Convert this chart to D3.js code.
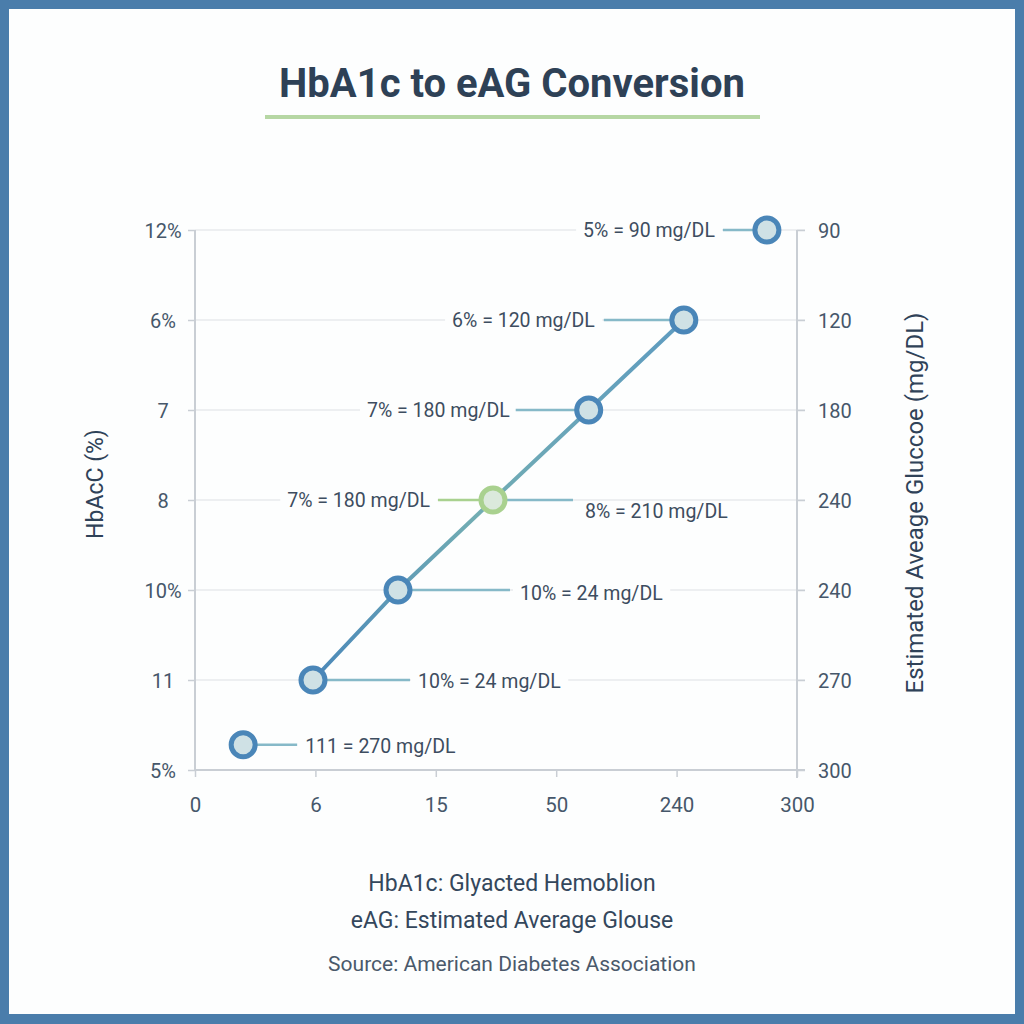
<!DOCTYPE html>
<html>
<head>
<meta charset="utf-8">
<script src="https://cdn.jsdelivr.net/npm/d3@7"></script>
<style>
  html, body { margin: 0; padding: 0; background: #4a7dab; }
  #chart { width: 1024px; height: 1024px; }
  text { font-family: Roboto, "Noto Sans", sans-serif; }
</style>
</head>
<body>
<div id="chart"></div>
<script>
// Tick labels as they appear in the picture
const leftTicks = ["12%", "6%", "7", "8", "10%", "11", "5%"];
const rightTicks = ["90", "120", "180", "240", "240", "270", "300"];
const xTicks = ["0", "6", "15", "50", "240", "300"];

// Points, in axis units (x: tick index, y: row index from top)
const pointX = [4.75, 4.06, 3.27, 2.475, 1.686, 0.98, 0.40];
const pointY = [0, 1, 2, 3, 4, 5, 5.72];
const pointHighlight = [false, false, false, true, false, false, false];
// which points are joined by the line
const lineIdx = [1, 2, 3, 4, 5];

// Annotation texts
const labelText = [
  "5% = 90 mg/DL",
  "6% = 120 mg/DL",
  "7% = 180 mg/DL",
  "7% = 180 mg/DL",
  "8% = 210 mg/DL",
  "10% = 24 mg/DL",
  "10% = 24 mg/DL",
  "111 = 270 mg/DL"
];
const labelPoint = [0, 1, 2, 3, 3, 4, 5, 6];

// leader line / label layout (pixels, relative to the point)
const labelLayout = [
  {x1: -44, x2: -12, tx: -52, dy: 0, green: false},
  {x1: -80, x2: -12, tx: -89, dy: 0, green: false},
  {x1: -73, x2: -12, tx: -79, dy: 0, green: false},
  {x1: -55, x2: -12, tx: -63, dy: 0, green: true},
  {x1: 12, x2: 80, tx: 92, dy: 11, green: false},
  {x1: 12, x2: 112, tx: 122, dy: 3, green: false},
  {x1: 12, x2: 97, tx: 105, dy: 1, green: false},
  {x1: 12, x2: 54, tx: 62, dy: 1, green: false}
];

const width = 1024, height = 1024;
const margin = {top: 230, bottom: 254, left: 195, right: 227};

const svg = d3.select("#chart")
  .append("svg")
  .attr("width", width)
  .attr("height", height);

// frame
svg.append("rect")
   .attr("x", 0).attr("y", 0)
   .attr("width", width).attr("height", height)
   .attr("fill", "#4a7dab");
svg.append("rect")
   .attr("x", 9).attr("y", 9)
   .attr("width", width - 18).attr("height", height - 19)
   .attr("fill", "#fdfefe");

const x = d3.scaleLinear()
            .domain([0, xTicks.length - 1])
            .range([margin.left, width - margin.right]);

const y = d3.scaleLinear()
            .domain([0, leftTicks.length - 1])
            .range([margin.top, height - margin.bottom]);

const textColor = "#3d4d60";
const tickColor = "#46576a";
const axisColor = "#c9ced4";

// gridlines
svg.append("g")
   .selectAll("line")
   .data(d3.range(leftTicks.length - 1))
   .join("line")
   .attr("x1", x(0))
   .attr("x2", x(xTicks.length - 1) + 8)
   .attr("y1", d => y(d))
   .attr("y2", d => y(d))
   .attr("stroke", "#e7eaed")
   .attr("stroke-width", 1.5);

// left axis
const leftAxis = svg.append("g")
  .attr("transform", `translate(${margin.left},0)`)
  .call(d3.axisLeft(y).tickValues(d3.range(leftTicks.length)).tickSize(7).tickFormat(""));
leftAxis.select(".domain").remove();
leftAxis.selectAll("line").attr("stroke", axisColor).attr("stroke-width", 1.5);
leftAxis.selectAll(".tick").append("text")
  .attr("x", -32)
  .attr("dy", "0.35em")
  .attr("text-anchor", "middle")
  .attr("fill", tickColor)
  .attr("font-size", 20)
  .text((d, i) => leftTicks[i]);

svg.append("line")
   .attr("x1", x(0)).attr("x2", x(0))
   .attr("y1", y(0)).attr("y2", y(leftTicks.length - 1))
   .attr("stroke", axisColor).attr("stroke-width", 2);

// right axis
const rightAxis = svg.append("g")
  .attr("transform", `translate(${x(xTicks.length - 1)},0)`)
  .call(d3.axisRight(y).tickValues(d3.range(rightTicks.length)).tickSize(8).tickFormat(""));
rightAxis.select(".domain").remove();
rightAxis.selectAll("line").attr("stroke", axisColor).attr("stroke-width", 1.5);
rightAxis.selectAll(".tick").append("text")
  .attr("x", 21)
  .attr("dy", "0.35em")
  .attr("fill", tickColor)
  .attr("font-size", 20)
  .text((d, i) => rightTicks[i]);

svg.append("line")
   .attr("x1", x(xTicks.length - 1)).attr("x2", x(xTicks.length - 1))
   .attr("y1", y(0)).attr("y2", y(leftTicks.length - 1) + 8)
   .attr("stroke", axisColor).attr("stroke-width", 2);

// bottom axis
const xAxis = svg.append("g")
  .attr("transform", `translate(0,${y(leftTicks.length - 1)})`)
  .call(d3.axisBottom(x).tickValues(d3.range(xTicks.length)).tickSize(7).tickFormat(""));
xAxis.select(".domain").remove();
xAxis.selectAll("line").attr("stroke", axisColor).attr("stroke-width", 1.5);
xAxis.selectAll(".tick").append("text")
  .attr("y", 35)
  .attr("dy", "0.35em")
  .attr("text-anchor", "middle")
  .attr("fill", tickColor)
  .attr("font-size", 20.5)
  .text((d, i) => xTicks[i]);

svg.append("line")
   .attr("x1", x(0)).attr("x2", x(xTicks.length - 1) + 8)
   .attr("y1", y(leftTicks.length - 1)).attr("y2", y(leftTicks.length - 1))
   .attr("stroke", axisColor).attr("stroke-width", 2);

// axis titles
svg.append("text")
   .attr("transform", `translate(95, 484) rotate(-90)`)
   .attr("text-anchor", "middle")
   .attr("dy", "0.35em")
   .attr("font-size", 23)
   .attr("fill", "#2f4258")
   .text("HbAcC (%)");

svg.append("text")
   .attr("transform", `translate(915, 503) rotate(-90)`)
   .attr("text-anchor", "middle")
   .attr("dy", "0.35em")
   .attr("font-size", 24)
   .attr("fill", "#2f4258")
   .text("Estimated Aveage Gluccoe (mg/DL)");

// title
svg.append("text")
   .attr("x", width / 2)
   .attr("y", 97)
   .attr("text-anchor", "middle")
   .attr("font-size", 40)
   .attr("font-weight", "bold")
   .attr("fill", "#2e4156")
   .text("HbA1c to eAG Conversion");

svg.append("rect")
   .attr("x", 265).attr("y", 115)
   .attr("width", 495).attr("height", 4)
   .attr("fill", "#b6d7a4");

// line gradient
const defs = svg.append("defs");
const grad = defs.append("linearGradient")
  .attr("id", "lineGrad")
  .attr("gradientUnits", "userSpaceOnUse")
  .attr("x1", x(pointX[5])).attr("y1", y(pointY[5]))
  .attr("x2", x(pointX[1])).attr("y2", y(pointY[1]));
grad.append("stop").attr("offset", "0%").attr("stop-color", "#4b88b9");
grad.append("stop").attr("offset", "45%").attr("stop-color", "#72adb3");
grad.append("stop").attr("offset", "100%").attr("stop-color", "#5e9bc0");

// leader lines and labels
const labels = svg.append("g");
labelText.forEach((t, i) => {
  const p = labelPoint[i];
  const L = labelLayout[i];
  const px = x(pointX[p]), py = y(pointY[p]);

  const g = labels.append("g");
  const bg = g.append("rect").attr("fill", "#fdfefe");

  g.append("line")
     .attr("x1", px + L.x1).attr("x2", px + L.x2)
     .attr("y1", py).attr("y2", py)
     .attr("stroke", L.green ? "#a9d18f" : "#86b9c8")
     .attr("stroke-width", 2.5);

  const label = g.append("text")
     .attr("x", px + L.tx)
     .attr("y", py + L.dy)
     .attr("dy", "0.35em")
     .attr("text-anchor", L.tx < 0 ? "end" : "start")
     .attr("font-size", 19.5)
     .attr("fill", textColor)
     .text(t);

  const bb = label.node().getBBox();
  bg.attr("x", bb.x - 7).attr("y", bb.y + 4)
    .attr("width", bb.width + 14).attr("height", bb.height - 8);
});

const line = d3.line()
  .x(i => x(pointX[i]))
  .y(i => y(pointY[i]));

svg.append("path")
   .datum(lineIdx)
   .attr("d", line)
   .attr("fill", "none")
   .attr("stroke", "url(#lineGrad)")
   .attr("stroke-width", 4);

// points
svg.append("g")
   .selectAll("circle")
   .data(d3.range(pointX.length))
   .join("circle")
   .attr("cx", i => x(pointX[i]))
   .attr("cy", i => y(pointY[i]))
   .attr("r", 12)
   .attr("fill", i => pointHighlight[i] ? "#dbe9dc" : "#cfe1e5")
   .attr("stroke", i => pointHighlight[i] ? "#a9d18f" : "#4a86b8")
   .attr("stroke-width", 5);

// footer
svg.append("text")
   .attr("x", width / 2).attr("y", 891)
   .attr("text-anchor", "middle")
   .attr("font-size", 23)
   .attr("fill", "#34475c")
   .text("HbA1c: Glyacted Hemoblion");

svg.append("text")
   .attr("x", width / 2).attr("y", 928)
   .attr("text-anchor", "middle")
   .attr("font-size", 23)
   .attr("fill", "#34475c")
   .text("eAG: Estimated Average Glouse");

svg.append("text")
   .attr("x", width / 2).attr("y", 971)
   .attr("text-anchor", "middle")
   .attr("font-size", 21)
   .attr("fill", "#4a596b")
   .text("Source: American Diabetes Association");
</script>
</body>
</html>
